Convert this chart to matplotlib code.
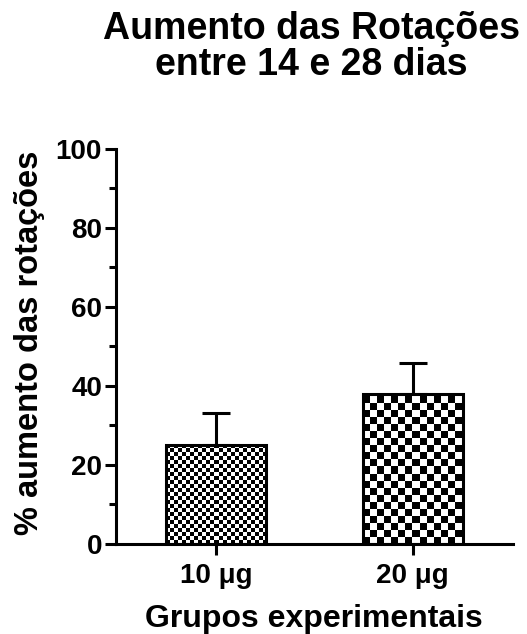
"""
Aumento das rotações entre 14 e 28 dias - bar chart with checker fills.
"""
import numpy as np
import matplotlib
matplotlib.use('Agg')
import matplotlib.pyplot as plt
from matplotlib.ticker import MultipleLocator

plt.rcParams['font.family'] = ['Liberation Sans', 'DejaVu Sans']
plt.rcParams['font.weight'] = 'bold'

# data
groups = ['10 μg', '20 μg']
means = [25, 38]
sem = [8.2, 7.8]
checker_px = [4, 7]   # size of checker squares per bar (pixels)

fig = plt.figure(figsize=(5.27, 6.34), dpi=100)
ax = fig.add_axes([0.220, 0.142, 0.753, 0.623])

x = np.arange(len(groups))
bars = ax.bar(x, means, 0.51, facecolor='none', edgecolor='black',
              linewidth=2.2, zorder=3)
ax.errorbar(x, means, yerr=[np.zeros(len(sem)), sem], fmt='none',
            ecolor='black', elinewidth=2.2, capsize=10, capthick=2.2, zorder=1)

ax.set_xlim(-0.508, 1.508)
ax.set_ylim(0, 100)
ax.yaxis.set_major_locator(MultipleLocator(20))
ax.yaxis.set_minor_locator(MultipleLocator(10))
ax.set_xticks(x)
ax.set_xticklabels(groups)

for side in ['top', 'right']:
    ax.spines[side].set_visible(False)
for side in ['left', 'bottom']:
    ax.spines[side].set_linewidth(2.2)

ax.tick_params(axis='both', which='major', length=8, width=2.2,
               labelsize=20, pad=2)
ax.tick_params(axis='y', which='minor', length=5, width=2.2)
ax.tick_params(axis='x', which='major', pad=6)

ax.set_ylabel('% aumento das rotações', fontsize=23.5, fontweight='bold')
ax.yaxis.set_label_coords(-0.18, 0.51)
ax.set_xlabel('Grupos experimentais', fontsize=23, fontweight='bold')
ax.xaxis.set_label_coords(0.5, -0.152)

fig.text(0.591, 0.982, 'Aumento das Rotações\nentre 14 e 28 dias',
         ha='center', va='top', fontsize=27, fontweight='bold',
         linespacing=1.0)

# checkerboard fills, one image per bar, clipped to the bar
fig.canvas.draw()
for bar, cell in zip(bars, checker_px):
    bb = bar.get_window_extent()
    w_px = int(round(bb.width))
    h_px = int(round(bb.height))
    ii, jj = np.indices((h_px, w_px))
    pattern = ((ii // cell + jj // cell) % 2).astype(float)
    x0 = bar.get_x()
    im = ax.imshow(pattern, cmap='gray', vmin=0, vmax=1,
                   extent=(x0, x0 + bar.get_width(), 0, bar.get_height()),
                   origin='lower', interpolation='nearest', aspect='auto',
                   zorder=2)
    im.set_clip_path(bar)

ax.set_xlim(-0.508, 1.508)
ax.set_ylim(0, 100)

plt.savefig('out.png', dpi=100)
plt.close()
